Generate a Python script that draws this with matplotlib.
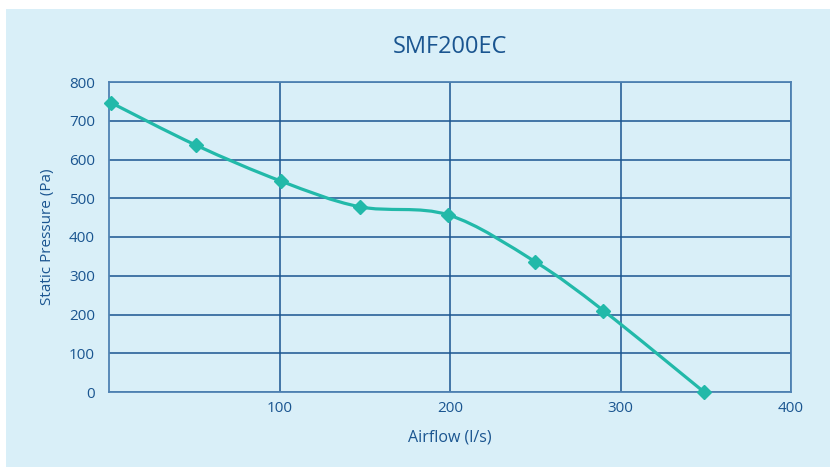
import numpy as np
import matplotlib
matplotlib.use("Agg")
import matplotlib.pyplot as plt
from matplotlib.path import Path
from matplotlib.patches import PathPatch, Rectangle

# data
airflow = [1, 51, 101, 147, 199, 250, 290, 349]
pressure = [747, 637, 544, 478, 457, 336, 210, 0]
xticks = [100, 200, 300, 400]
yticks = [0, 100, 200, 300, 400, 500, 600, 700, 800]

bg = "#d9eff8"
dark = "#1a5590"
teal = "#22b9a9"

plt.rcParams["font.family"] = ["Open Sans", "DejaVu Sans"]

fig = plt.figure(figsize=(8.3, 4.67), dpi=100)
fig.add_artist(Rectangle((6 / 830, 0), 1, 1 - 9 / 467, transform=fig.transFigure,
                         facecolor=bg, edgecolor="none", zorder=-10))

ax = fig.add_axes([109 / 830, 1 - 392 / 467, (791 - 109) / 830, (392 - 82) / 467])
ax.set_facecolor(bg)

# smoothed line through the points (bezier, like a spreadsheet "smooth line")
x = np.array(airflow, dtype=float)
y = np.array(pressure, dtype=float)
verts = [(x[0], y[0])]
codes = [Path.MOVETO]
n = len(x)
for i in range(n - 1):
    x0, y0 = (x[i - 1], y[i - 1]) if i > 0 else (x[i], y[i])
    x3, y3 = (x[i + 2], y[i + 2]) if i + 2 < n else (x[i + 1], y[i + 1])
    c1 = (x[i] + (x[i + 1] - x0) / 6, y[i] + (y[i + 1] - y0) / 6)
    c2 = (x[i + 1] - (x3 - x[i]) / 6, y[i + 1] - (y3 - y[i]) / 6)
    verts += [c1, c2, (x[i + 1], y[i + 1])]
    codes += [Path.CURVE4] * 3
ax.add_patch(PathPatch(Path(verts, codes), facecolor="none", edgecolor=teal,
                       lw=2.3, zorder=3, clip_on=False))
ax.plot(airflow, pressure, linestyle="none", marker="D", markersize=7.5,
        color=teal, zorder=4, clip_on=False)

ax.set_xlim(0, 400)
ax.set_ylim(0, 800)
ax.set_xticks(xticks)
ax.set_yticks(yticks)
ax.grid(True, color=dark, linewidth=1.1)
ax.set_axisbelow(True)
for s in ax.spines.values():
    s.set_color("#4f82b3")
    s.set_linewidth(1.3)
ax.tick_params(length=0, labelsize=11, colors=dark)
ax.tick_params(axis="x", pad=6.5)
ax.tick_params(axis="y", pad=10)

ax.set_title("SMF200EC", fontsize=17, color=dark, pad=21)
ax.set_xlabel("Airflow (l/s)", fontsize=11.5, color=dark, labelpad=10)
ax.set_ylabel("Static Pressure (Pa)", fontsize=11, color=dark, labelpad=10)

fig.savefig("out.png", dpi=100, facecolor="white")
